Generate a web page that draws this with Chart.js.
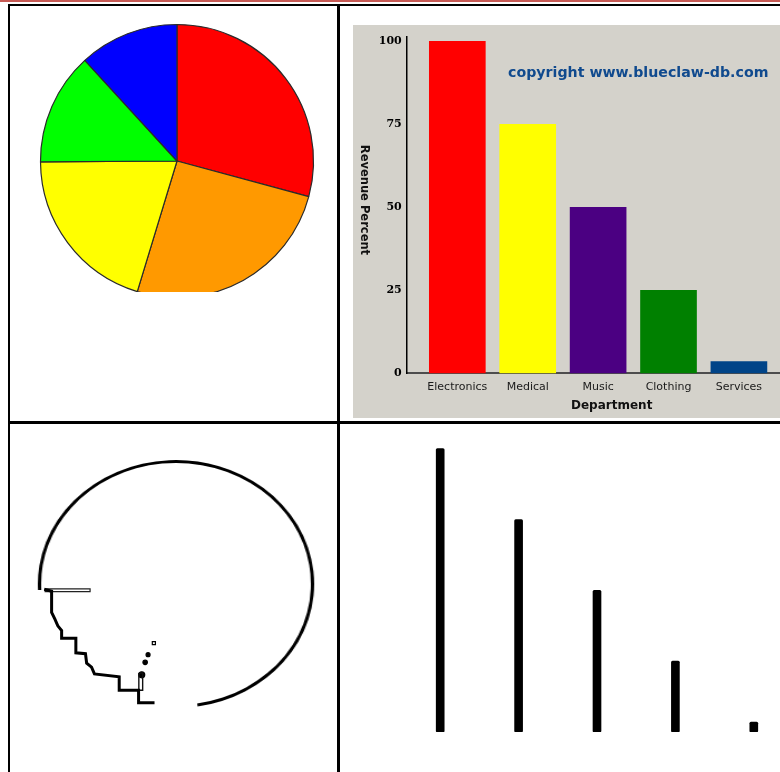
<!DOCTYPE html>
<html><head><meta charset="utf-8">
<script src="https://cdn.jsdelivr.net/npm/chart.js@4.4.1/dist/chart.umd.min.js"></script>
<style>
html,body{margin:0;padding:0;width:780px;height:772px;overflow:hidden;background:#fff;}
.abs{position:absolute;}
canvas{display:block;}
</style></head><body>
<div class="abs" style="left:0;top:0;width:780px;height:1.5px;background:#c75a55"></div>
<div class="abs" style="left:8px;top:4px;width:772px;height:2px;background:#000"></div>
<div class="abs" style="left:8px;top:4px;width:2px;height:768px;background:#000"></div>
<div class="abs" style="left:337px;top:4px;width:2.5px;height:768px;background:#000"></div>
<div class="abs" style="left:8px;top:421px;width:772px;height:3px;background:#000"></div>

<div class="abs" style="left:10px;top:6px;width:327px;height:285.5px;overflow:hidden">
  <canvas id="pie" class="abs" width="300" height="300" style="left:17px;top:5px"></canvas>
</div>

<canvas id="bar" class="abs" width="470" height="393" style="left:353px;top:25px;background:#d4d2cb"></canvas>

<div class="abs" style="left:10px;top:424px;width:327px;height:284.3px;overflow:hidden">
  <div class="abs" style="left:35.5px;top:29.5px;width:260px;height:260px;transform:scaleX(1.1143);transform-origin:130px 130px">
    <canvas id="ring" width="260" height="260"></canvas>
  </div>
  <canvas id="outline" class="abs" width="300" height="270" style="left:15.5px;top:24.5px"></canvas>
</div>

<canvas id="bars2" class="abs" width="392" height="298" style="left:400.8px;top:433.7px"></canvas>

<script>
// ---- data ----
const departments = ['Electronics', 'Medical', 'Music', 'Clothing', 'Services'];
const revenuePercent = [100, 75, 50, 25, 3.5];
const yTicks = [0, 25, 50, 75, 100];
const yTitle = 'Revenue Percent';
const xTitle = 'Department';
const copyrightText = 'copyright www.blueclaw-db.com';

const pieShares = [29.2, 25.5, 20.2, 13.3, 11.8];

// outline panel: arc of the ring (degrees drawn / gap)
const ringArcDeg = [263.8, 96.2];
// outline staircase, in % of ellipse radius (x right, y up)
const stairX = [-100, -94.4, -94.4, -91.9, -89.7, -86.8, -86.8, -76.0, -76.0, -68.7, -67.8, -64.1, -61.9, -43.1, -43.1, -28.4, -28.4, -16.3];
const stairY = [-4.5, -6.1, -24.1, -29.8, -35.5, -39.6, -46.1, -46.1, -58.4, -59.2, -67.3, -70.6, -76.3, -78.8, -90.2, -90.2, -100.8, -100.8];
const slotX = [-99.3, -65.2, -65.2, -99.3, -99.3];
const slotY = [-4.1, -4.1, -6.5, -6.5, -4.1];
const notchX = [-28.2, -25.3, -25.3, -28.2, -28.2];
const notchY = [-75.5, -75.5, -90.2, -90.2, -75.5];
const specX = [-16.8, -21.2, -23.4, -26.0];
const specY = [-50.2, -60.0, -66.5, -77.1];

// ---- styles ----
const pieColors = ['#ff0000', '#ff9900', '#ffff00', '#00ff00', '#0000ff'];
const barColors = ['#ff0000', '#ffff00', '#4b0082', '#008000', '#004488'];

Chart.defaults.font.family = "'DejaVu Sans', sans-serif";
const noUi = {legend: {display: false}, tooltip: {enabled: false}};

new Chart(document.getElementById('pie'), {
  type: 'pie',
  data: {labels: departments, datasets: [{data: pieShares, backgroundColor: pieColors, borderColor: '#2b2b2b', borderWidth: 1.2}]},
  options: {responsive: false, animation: false, events: [], radius: 136.5, layout: {padding: 0}, plugins: noUi}
});

const panelText = {
  id: 'panelText',
  afterDraw(chart) {
    const {ctx} = chart;
    const y = chart.scales.y;
    ctx.save();
    ctx.translate(11, (y.top + y.bottom) / 2 - 5);
    ctx.rotate(Math.PI / 2);
    ctx.font = "bold 11.5px 'DejaVu Sans'";
    ctx.fillStyle = '#111';
    ctx.textAlign = 'center';
    ctx.textBaseline = 'middle';
    ctx.fillText(yTitle, 0, 0);
    ctx.restore();
    ctx.save();
    ctx.font = "bold 14.2px 'DejaVu Sans'";
    ctx.fillStyle = '#104a8e';
    ctx.textAlign = 'left';
    ctx.textBaseline = 'middle';
    ctx.fillText(copyrightText, 155, 48.5);
    ctx.restore();
  }
};

new Chart(document.getElementById('bar'), {
  type: 'bar',
  data: {datasets: [{
    data: revenuePercent.map((v, i) => ({x: i, y: v})),
    backgroundColor: barColors, borderWidth: 0, barThickness: 56
  }]},
  options: {
    responsive: false, animation: false, events: [],
    layout: {padding: {left: 0, right: 6.3, top: 8.3, bottom: 3.7}},
    plugins: noUi,
    scales: {
      x: {
        type: 'linear', min: -0.719, max: 5.105, offset: false,
        afterBuildTicks: s => { s.ticks = departments.map((d, i) => ({value: i})); },
        grid: {display: false, drawTicks: false, offset: false},
        border: {display: true, color: '#4d4d4d', width: 2},
        ticks: {autoSkip: false, maxRotation: 0, padding: 8, color: '#1a1a1a',
                font: {size: 11, lineHeight: 1}, callback: v => departments[v]},
        title: {display: true, text: xTitle, color: '#111',
                font: {size: 12, weight: 'bold', lineHeight: 1}, padding: {top: 0, bottom: 2}}
      },
      y: {
        min: 0, max: 101.4,
        afterBuildTicks: s => { s.ticks = yTicks.map(v => ({value: v})); },
        afterFit: s => { s.width = 53.7; },
        grid: {display: false, drawTicks: false},
        border: {display: true, color: '#000', width: 1.5},
        ticks: {padding: 5, color: '#000', font: {family: "'DejaVu Serif'", size: 11, weight: 'bold'}}
      }
    }
  },
  plugins: [panelText]
});

new Chart(document.getElementById('ring'), {
  type: 'doughnut',
  data: {datasets: [{data: ringArcDeg, backgroundColor: ['#000', 'rgba(0,0,0,0)'], borderWidth: 0}]},
  options: {responsive: false, animation: false, events: [], rotation: 267.2, radius: 124, cutout: '97.6%',
            layout: {padding: 0}, plugins: noUi}
});

const pts = (xs, ys) => xs.map((x, i) => ({x, y: ys[i]}));
new Chart(document.getElementById('outline'), {
  type: 'scatter',
  data: {datasets: [
    {data: pts(stairX, stairY), showLine: true, borderColor: '#000', borderWidth: 3, pointRadius: 0, borderJoinStyle: 'miter', clip: false},
    {data: pts(slotX, slotY), showLine: true, borderColor: '#222', borderWidth: 1.2, pointRadius: 0, clip: false},
    {data: pts(notchX, notchY), showLine: true, borderColor: '#111', borderWidth: 1.4, pointRadius: 0, clip: false},
    {data: pts(specX, specY), showLine: false, pointStyle: ['rect', 'circle', 'circle', 'circle'],
     pointRadius: [2.2, 2, 2.2, 3], backgroundColor: ['#fff', '#000', '#000', '#000'], borderColor: '#000', borderWidth: 1.2, clip: false}
  ]},
  options: {
    responsive: false, animation: false, events: [], layout: {padding: 0}, plugins: noUi,
    scales: {x: {type: 'linear', display: false, min: -109.89, max: 109.89},
             y: {type: 'linear', display: false, min: -110.2, max: 110.2}}
  }
});

new Chart(document.getElementById('bars2'), {
  type: 'bar',
  data: {labels: departments, datasets: [{data: revenuePercent, backgroundColor: '#000', barThickness: 8, borderRadius: 1.5, borderSkipped: false}]},
  options: {responsive: false, animation: false, events: [], layout: {padding: 0}, plugins: noUi,
            scales: {x: {display: false}, y: {display: false, min: 0, max: 105.18}}}
});
</script>
</body></html>
